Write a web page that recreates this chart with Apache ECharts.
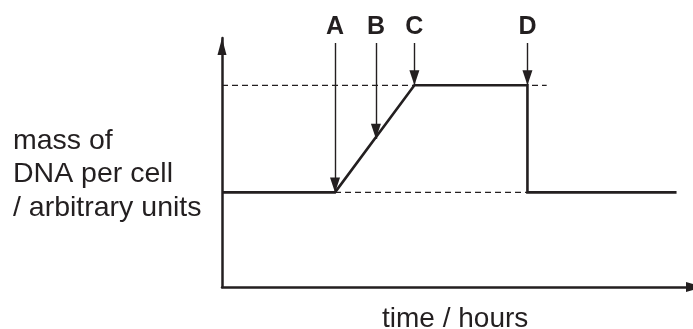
<!DOCTYPE html>
<html>
<head>
<meta charset="utf-8">
<script src="https://cdn.jsdelivr.net/npm/echarts@6/dist/echarts.min.js"></script>
<style>
html, body { margin: 0; padding: 0; background: #fff; }
#main { width: 693px; height: 329px; }
</style>
</head>
<body>
<div id="main"></div>
<script>
// DNA content per cell over time (arbitrary units)
var traceTime = [0, 4.7, 8.0, 12.7, 12.7, 18.9];
var traceMass = [3.8, 3.8, 8.1, 8.1, 3.8, 3.8];

// dashed guide levels
var lowLevel = 3.8;
var highLevel = 8.1;
var upperDashTime = [0, 13.5];
var lowerDashTime = [4.7, 12.7];

// labelled arrows A-D
var phaseLabels = ['A', 'B', 'C', 'D'];
var phaseTime = [4.7, 6.4, 8.0, 12.7];
var arrowTop = 9.8;
var arrowEnd = [3.8, 5.95, 8.1, 8.1];
var labelLevel = 10.42;

var ink = '#231f20';
var font = "'Liberation Sans', Arial, Helvetica, sans-serif";

var chart = echarts.init(document.getElementById('main'), null, { renderer: 'canvas' });

var trace = traceTime.map(function (t, i) { return [t, traceMass[i]]; });
var upperDash = upperDashTime.map(function (t) { return [t, highLevel]; });
var lowerDash = lowerDashTime.map(function (t) { return [t, lowLevel]; });
var arrows = phaseTime.map(function (t, i) {
  return [{ coord: [t, arrowTop] }, { coord: [t, arrowEnd[i]] }];
});
var labels = phaseTime.map(function (t, i) {
  return { value: [t, labelLevel], name: phaseLabels[i] };
});

chart.setOption({
  animation: false,
  title: [
    {
      text: 'mass of\nDNA per cell\n/ arbitrary units',
      left: 13,
      top: 124,
      padding: 0,
      textStyle: { fontFamily: font, fontSize: 28.5, fontWeight: 'normal', color: ink, lineHeight: 33.5 }
    },
    {
      text: 'time / hours',
      left: 382,
      top: 304,
      padding: 0,
      textStyle: { fontFamily: font, fontSize: 28, fontWeight: 'normal', color: ink, lineHeight: 30 }
    }
  ],
  grid: { left: 222, right: -10, top: 38, bottom: 42, outerBoundsMode: 'none', containLabel: false },
  xAxis: {
    type: 'value',
    min: 0,
    max: 20,
    axisLine: {
      show: true,
      symbol: ['none', 'triangle'],
      symbolSize: [10, 17],
      symbolOffset: [0, -8.5],
      lineStyle: { color: ink, width: 2.5 }
    },
    axisTick: { show: false },
    axisLabel: { show: false },
    splitLine: { show: false }
  },
  yAxis: {
    type: 'value',
    min: 0,
    max: 10,
    axisLine: {
      show: true,
      symbol: ['none', 'triangle'],
      symbolSize: [9, 17],
      symbolOffset: [0, -8.5],
      lineStyle: { color: ink, width: 2.5 }
    },
    axisTick: { show: false },
    axisLabel: { show: false },
    splitLine: { show: false }
  },
  series: [
    {
      type: 'line',
      data: upperDash,
      showSymbol: false,
      silent: true,
      lineStyle: { color: ink, width: 1.2, type: [6, 4] },
      z: 1
    },
    {
      type: 'line',
      data: lowerDash,
      showSymbol: false,
      silent: true,
      lineStyle: { color: ink, width: 1.2, type: [6, 4] },
      z: 1
    },
    {
      type: 'line',
      data: trace,
      showSymbol: false,
      silent: true,
      lineStyle: { color: ink, width: 2.6, join: 'miter' },
      z: 3,
      markLine: {
        silent: true,
        animation: false,
        precision: 4,
        symbol: ['none', 'triangle'],
        symbolSize: [10, 15],
        symbolOffset: [[0, 0], [0, 7.5]],
        label: { show: false },
        lineStyle: { color: ink, width: 1.4, type: 'solid', opacity: 1 },
        emphasis: { disabled: true },
        data: arrows
      }
    },
    {
      type: 'scatter',
      data: labels,
      symbolSize: 0,
      clip: false,
      silent: true,
      itemStyle: { opacity: 1 },
      label: {
        show: true,
        position: 'inside',
        formatter: '{b}',
        fontFamily: font,
        fontSize: 25,
        fontWeight: 700,
        color: ink,
        opacity: 1
      },
      z: 5
    }
  ]
});
window.onresize = function () { chart.resize(); };
</script>
</body>
</html>
